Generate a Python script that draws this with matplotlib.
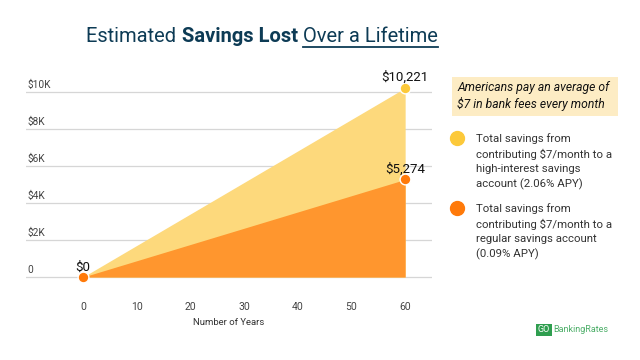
import matplotlib.pyplot as plt
from matplotlib.patches import Rectangle

# Data
years = [0, 60]
high_yield = [0, 10221]
regular = [0, 5274]
point_labels_high = ['', '$10,221']
point_labels_reg = ['$0', '$5,274']
x_ticks = [0, 10, 20, 30, 40, 50, 60]
y_ticks = [0, 2000, 4000, 6000, 8000, 10000]
y_tick_labels = ['0', '$2K', '$4K', '$6K', '$8K', '$10K']

plt.rcParams['font.family'] = ['Roboto', 'DejaVu Sans']

fig = plt.figure(figsize=(6.4, 3.6), dpi=100)
ax = fig.add_axes([26 / 640, 1 - 290 / 360, 406 / 640, 210 / 360])

light = '#fdd97c'
dark = '#ff962e'
ax.fill_between(years, high_yield, color=light, lw=0, zorder=2)
ax.fill_between(years, regular, color=dark, lw=0, zorder=3)

ax.scatter(years[1:], high_yield[1:], s=60, color='#fcc93a', edgecolor='white', lw=1, zorder=5)
ax.scatter(years, regular, s=60, color='#ff7a0a', edgecolor='white', lw=1, zorder=5)

for x, y, t in zip(years, high_yield, point_labels_high):
    if t:
        ax.text(x, y + 200, t, ha='center', va='bottom', fontsize=9.5, color='#111111', zorder=6)
for x, y, t in zip(years, regular, point_labels_reg):
    ax.text(x, y + 200, t, ha='center', va='bottom', fontsize=9.5, color='#111111', zorder=6)

ax.set_xlim(-10.6, 65)
ax.set_ylim(-700, 10650)
for yv in y_ticks:
    ax.axhline(yv, color='#d6d6d6', lw=0.9, zorder=1)
for yv, lab in zip(y_ticks, y_tick_labels):
    ax.text(-10.4, yv + 90, lab, ha='left', va='bottom', fontsize=7.3, color='#444444')

ax.set_xticks(x_ticks)
ax.set_xticklabels([str(v) for v in x_ticks], fontsize=7.5, color='#444444')
ax.tick_params(axis='x', length=0, pad=9)
ax.set_yticks([])
ax.set_xlabel('Number of Years', fontsize=6.8, color='#333333', labelpad=4)
for s in ax.spines.values():
    s.set_visible(False)

# Title in three pieces: regular, bold, underlined
title_color = '#0d3b55'
fig.canvas.draw()
r = fig.canvas.get_renderer()
parts = [('Estimated ', 'normal'), ('Savings Lost ', 'bold'), ('Over a Lifetime', 'normal')]
texts = []
for s, w in parts:
    texts.append(fig.text(0, 1 - 36 / 360, s, fontsize=14.5, fontweight=w, color=title_color,
                          va='center', ha='left'))
widths = [t.get_window_extent(r).width for t in texts]
x0 = 262 - sum(widths) / 2
for t, w in zip(texts, widths):
    t.set_x(x0 / 640)
    x0 += w
ul_start = (x0 - widths[-1]) / 640
fig.add_artist(plt.Line2D([ul_start, x0 / 640], [1 - 47 / 360] * 2, color=title_color, lw=1.3))

# Note box
fig.add_artist(Rectangle((452 / 640, 1 - 116 / 360), 166 / 640, 39 / 360,
                         facecolor='#fdecc4', edgecolor='none'))
fig.text(457 / 640, 1 - 96 / 360, 'Americans pay an average of\n$7 in bank fees every month',
         fontsize=8.7, style='italic', color='#111111', va='center', ha='left', linespacing=1.25)

# Legend
legend_items = [
    ('#fcc93a', 138, 'Total savings from\ncontributing $7/month to a\nhigh-interest savings\naccount (2.06% APY)'),
    ('#ff7a0a', 208, 'Total savings from\ncontributing $7/month to a\nregular savings account\n(0.09% APY)'),
]
for c, ypix, txt in legend_items:
    fig.add_artist(plt.Line2D([457 / 640], [1 - ypix / 360], marker='o', markersize=10,
                              color=c, lw=0, transform=fig.transFigure))
    fig.text(476 / 640, 1 - (ypix - 5) / 360, txt, fontsize=8.2, color='#333333',
             va='top', ha='left', linespacing=1.5)

# Logo
fig.add_artist(Rectangle((536 / 640, 1 - 336 / 360), 16 / 640, 12 / 360,
                         facecolor='#2f9e4f', edgecolor='none'))
fig.text(544 / 640, 1 - 330 / 360, 'GO', fontsize=6.5, color='white', ha='center', va='center')
fig.text(553 / 640, 1 - 330 / 360, 'BankingRates', fontsize=6.5, color='#4cae68', ha='left', va='center')

fig.savefig('out.png', dpi=100)
